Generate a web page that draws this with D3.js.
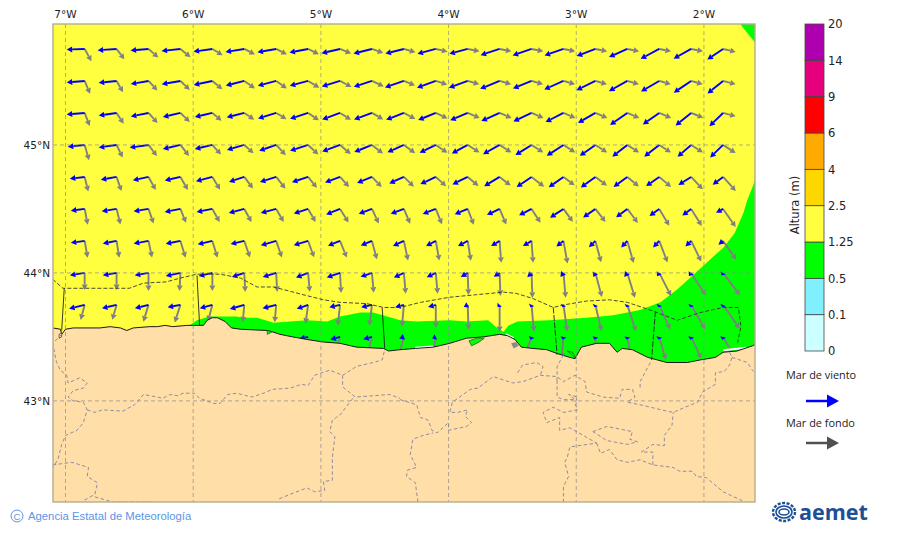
<!DOCTYPE html>
<html>
<head>
<meta charset="utf-8">
<style>
    body { margin: 0; background: #fff; }
    svg { display: block; }
    text { font-family: "DejaVu Sans", sans-serif; fill: #222; }
</style>
<script src="https://cdn.jsdelivr.net/npm/d3@7"></script>
</head>
<body>
<div id="container"></div>
<script>
// Grid of the wave model
const gridLons = [-6.85, -6.6, -6.35, -6.1, -5.85, -5.6, -5.35, -5.1, -4.85, -4.6, -4.35, -4.1, -3.85, -3.6, -3.35, -3.1, -2.85, -2.6, -2.35, -2.1, -1.85];
const gridLats = [45.75, 45.5, 45.25, 45, 44.75, 44.5, 44.25, 44, 43.75, 43.5];

// Wind sea: heading in degrees and size, one row per latitude
const windDir = [
    [268,266,265,264,262,261,260,259,257,256,256,255,255,252,251,251,249,246,242,241,236],
    [265,264,260,260,258,256,255,255,253,252,251,250,250,248,248,246,244,241,240,236,231],
    [265,262,259,257,257,256,253,252,250,250,249,248,247,246,245,243,240,235,235,231,226],
    [264,262,262,257,257,254,251,252,250,248,246,244,242,241,238,237,235,232,232,229,226],
    [263,260,258,257,255,252,253,252,250,248,246,245,244,239,236,235,234,234,235,238,233],
    [263,261,261,259,259,255,255,252,248,250,250,249,248,245,243,237,235,233,234,233,241],
    [262,259,260,259,257,257,254,253,248,248,245,242,242,239,239,232,226,223,223,225,231],
    [261,260,260,258,257,252,253,249,251,251,245,245,240,236,225,217,207,217,214,214,210],
    [256,257,256,260,255,254,256,251,258,258,255,255,243,225,207,205,205,205,205,205,205],
    [null,null,null,null,null,null,null,258,255,255,250,245,null,null,200,195,195,190,195,195,195]
];
const windLen = [
    [1.8,1.9,1.8,1.9,1.9,1.9,1.9,1.9,1.9,1.9,1.9,1.9,1.9,2.0,2.0,2.0,2.0,2.0,2.1,2.0,1.9],
    [1.8,1.8,1.8,1.9,1.9,1.9,1.9,1.9,1.9,1.9,2.0,2.0,2.0,2.1,2.0,2.1,2.1,2.1,2.1,2.1,2.0],
    [1.8,1.8,1.8,1.8,1.8,1.8,1.9,1.9,1.9,1.9,1.9,1.9,1.9,2.0,2.0,2.0,2.0,2.1,2.0,2.0,1.9],
    [1.7,1.8,1.9,1.8,1.8,1.8,1.8,1.9,1.9,1.9,1.8,1.8,1.8,1.9,1.9,2.0,1.9,1.9,1.9,1.8,1.8],
    [1.5,1.6,1.6,1.6,1.7,1.6,1.7,1.7,1.6,1.6,1.6,1.7,1.7,1.8,1.8,1.8,1.8,1.7,1.6,1.5,1.3],
    [1.4,1.5,1.5,1.6,1.6,1.6,1.6,1.5,1.5,1.4,1.4,1.4,1.4,1.4,1.4,1.6,1.5,1.4,1.2,1.1,0.8],
    [1.4,1.4,1.5,1.5,1.5,1.4,1.6,1.5,1.3,1.2,1.2,1.1,1.1,1.0,1.0,0.9,0.9,0.9,0.9,0.8,0.6],
    [1.5,1.4,1.4,1.5,1.4,1.3,1.4,1.3,1.4,1.2,1.1,1.0,0.8,0.7,0.6,0.5,0.45,0.5,0.4,0.4,0.3],
    [1.6,1.5,1.4,1.3,1.3,1.5,1.4,1.2,1.1,1.1,0.9,0.8,0.45,0.3,0.25,0.25,0.25,0.25,0.25,0.25,0.25],
    [null,null,null,null,null,null,null,0.9,1.0,0.9,0.5,0.4,null,null,0.3,0.3,0.3,0.3,0.3,0.3,0.3]
];

// Swell: heading in degrees and size
const swellDir = [
    [151,143,131,129,121,117,117,116,112,110,106,103,101,101,101,101,101,101,101,101,103],
    [157,150,137,134,130,125,125,121,118,115,112,108,106,106,106,106,106,106,106,106,105],
    [159,147,138,134,130,124,121,124,122,120,118,115,113,113,113,113,113,113,113,112,105],
    [164,154,143,142,138,132,137,133,130,128,126,124,123,123,123,123,123,123,123,123,123],
    [166,161,151,150,149,143,142,141,138,136,134,132,130,128,128,127,127,130,130,137,138],
    [169,166,161,158,151,151,150,150,148,155,157,158,159,157,147,144,142,143,149,148,145],
    [170,171,168,163,163,161,161,160,158,165,168,170,171,176,176,170,165,164,159,154,145],
    [180,180,180,183,180,177,177,175,177,175,175,175,178,178,178,175,165,163,153,147,143],
    [195,196,197,198,195,185,185,188,186,187,185,180,178,180,175,172,167,162,156,150,145],
    [null,null,null,null,null,null,null,195,197,195,195,190,null,null,200,185,180,170,164,155,150]
];
const swellLen = [
    [1.4,1.3,1.3,1.3,1.2,1.2,1.2,1.2,1.2,1.2,1.2,1.2,1.2,1.2,1.2,1.2,1.2,1.2,1.2,1.2,1.3],
    [1.4,1.3,1.3,1.3,1.3,1.3,1.3,1.3,1.3,1.3,1.2,1.2,1.2,1.2,1.2,1.2,1.2,1.2,1.2,1.2,1.3],
    [1.4,1.3,1.35,1.3,1.2,1.2,1.2,1.3,1.3,1.3,1.3,1.3,1.3,1.3,1.3,1.3,1.3,1.3,1.3,1.3,1.3],
    [1.6,1.4,1.4,1.4,1.3,1.25,1.4,1.4,1.4,1.4,1.4,1.4,1.4,1.4,1.4,1.4,1.4,1.4,1.4,1.4,1.5],
    [1.5,1.5,1.5,1.5,1.5,1.45,1.5,1.4,1.35,1.4,1.4,1.4,1.4,1.4,1.6,1.4,1.45,1.5,1.55,1.7,1.9],
    [1.6,1.6,1.55,1.5,1.5,1.5,1.5,1.5,1.6,1.6,1.6,1.65,1.7,1.7,1.65,1.6,1.65,1.75,1.95,2.0,2.2],
    [1.7,1.7,1.7,1.75,1.75,1.75,1.75,1.75,1.8,1.9,2.0,2.0,2.0,2.2,2.2,2.3,2.2,2.3,2.3,2.3,2.3],
    [1.7,1.7,1.8,1.8,1.8,1.9,1.9,1.9,2.0,2.0,2.1,2.1,2.2,2.3,2.5,2.5,2.5,2.6,2.6,2.7,2.8],
    [1.55,1.55,1.75,1.85,1.7,1.75,1.75,1.9,2.1,2.1,2.2,2.3,2.5,2.7,2.7,2.7,2.7,2.8,2.7,2.8,2.9],
    [null,null,null,null,null,null,null,2.0,2.0,2.1,2.1,2.2,null,null,2.2,2.2,2.2,2.3,2.4,2.4,2.4]
];

// Height classes of the colour bar
const heightLabels = ["0", "0.1", "0.5", "1.25", "2.5", "4", "6", "9", "14", "20"];
const heightColors = ["#ccffff", "#80f0ff", "#00ff00", "#ffff40", "#ffd700", "#ffaa00", "#ff0000", "#e6007e", "#ae00ae"];

const lonTicks = [-7, -6, -5, -4, -3, -2];
const latTicks = [45, 44, 43];

// Coastline, lon/lat, west to east
const coast = [[-7.10,43.57],[-7.04,43.56],[-7.03,43.52],[-7.00,43.56],[-6.94,43.57],[-6.73,43.57],[-6.65,43.58],[-6.57,43.57],[-6.52,43.55],[-6.47,43.57],[-6.34,43.58],[-6.28,43.58],[-6.22,43.59],[-6.16,43.58],[-6.05,43.59],[-5.92,43.59],[-5.89,43.63],[-5.85,43.65],[-5.81,43.65],[-5.75,43.62],[-5.70,43.57],[-5.63,43.56],[-5.42,43.55],[-5.38,43.54],[-5.32,43.52],[-5.22,43.50],[-5.11,43.48],[-4.98,43.46],[-4.85,43.45],[-4.72,43.42],[-4.51,43.41],[-4.47,43.39],[-4.38,43.40],[-4.26,43.41],[-4.12,43.42],[-3.99,43.45],[-3.86,43.49],[-3.73,43.50],[-3.60,43.52],[-3.54,43.51],[-3.48,43.48],[-3.43,43.42],[-3.34,43.41],[-3.23,43.40],[-3.15,43.37],[-3.05,43.34],[-3.01,43.33],[-2.96,43.42],[-2.84,43.45],[-2.74,43.45],[-2.68,43.38],[-2.64,43.41],[-2.56,43.40],[-2.44,43.34],[-2.29,43.30],[-2.13,43.30],[-2.03,43.32],[-1.91,43.34],[-1.85,43.38],[-1.74,43.39],[-1.62,43.43],[-1.60,43.44]];

// Contours of the 1.25 m class
const greenCoastal = [[-6.03,43.59],[-5.97,43.63],[-5.87,43.66],[-5.77,43.66],[-5.66,43.66],[-5.61,43.65],[-5.50,43.65],[-5.37,43.61],[-5.24,43.62],[-5.11,43.63],[-4.95,43.62],[-4.85,43.66],[-4.69,43.69],[-4.59,43.69],[-4.48,43.66],[-4.38,43.63],[-4.25,43.62],[-3.99,43.63],[-3.86,43.62],[-3.69,43.63],[-3.62,43.57],[-3.57,43.54],[-3.53,43.59],[-3.46,43.62],[-3.21,43.63],[-2.92,43.65],[-2.71,43.67],[-2.50,43.71],[-2.34,43.77],[-2.21,43.87],[-2.11,43.96],[-2.00,44.06],[-1.93,44.125],[-1.85,44.195],[-1.76,44.31],[-1.69,44.47],[-1.66,44.57],[-1.62,44.67],[-1.60,44.73],[-1.60,43.2],[-6.03,43.2]];
const greenCorner = [[-1.72,45.95],[-1.66,45.875],[-1.60,45.80],[-1.60,45.95]];
const greenIslets = [
    [[-3.84,43.47],[-3.78,43.49],[-3.72,43.49],[-3.76,43.46],[-3.82,43.43]],
    [[-3.07,43.39],[-3.00,43.33],[-3.03,43.38]],
    [[-5.42,43.55],[-5.38,43.54],[-5.42,43.52]]
];
const rocks = [
    [[-3.51,43.45],[-3.47,43.46],[-3.45,43.43],[-3.49,43.41]]
];
const noDataStrips = [
    [[-4.26,43.415],[-4.12,43.425]],
    [[-1.85,43.395],[-1.67,43.415]],
    [[-3.55,43.52],[-3.49,43.49]]
];
const estuary = [[-7.05,43.52],[-7.03,43.53],[-7.03,43.50],[-7.05,43.49]];

// Maritime limits offshore
const seaLimit = [[-7.10,43.95],[-7.02,43.88],[-6.50,43.88],[-6.39,43.92],[-6.21,43.93],[-6.10,43.96],[-5.97,43.99],[-5.79,43.99],[-5.63,43.96],[-5.50,43.89],[-5.37,43.89],[-5.14,43.83],[-4.98,43.79],[-4.85,43.77],[-4.64,43.76],[-4.51,43.73],[-4.38,43.73],[-4.22,43.77],[-3.99,43.81],[-3.78,43.83],[-3.57,43.85],[-3.47,43.84],[-3.34,43.80],[-3.18,43.73],[-3.10,43.75],[-2.92,43.78],[-2.74,43.79],[-2.60,43.77],[-2.42,43.71],[-2.21,43.63],[-2.03,43.69],[-1.85,43.73],[-1.73,43.73],[-1.71,43.58],[-1.74,43.44]];
const seaDividers = [
    [[-7.01,43.88],[-7.03,43.55]],
    [[-5.97,43.98],[-5.95,43.59]],
    [[-4.52,43.73],[-4.50,43.41]],
    [[-3.18,43.73],[-3.15,43.36]],
    [[-2.38,43.70],[-2.41,43.32]]
];

// Province borders on land
const provinces = [
    [[-7.03,43.52],[-7.10,43.45],[-7.07,43.30],[-7.04,43.24],[-6.99,43.20],[-6.98,43.14],[-6.89,43.18],[-6.83,43.14],[-6.86,43.10],[-6.94,43.08],[-6.98,43.03],[-6.94,43.00],[-6.86,42.99],[-6.83,42.93],[-6.86,42.83],[-6.91,42.77],[-7.00,42.73],[-7.03,42.66],[-7.06,42.54],[-7.10,42.48]],
    [[-6.83,42.93],[-6.77,42.91],[-6.71,42.93],[-6.55,42.92],[-6.46,42.97],[-6.44,42.99],[-6.39,43.05],[-6.28,43.03],[-6.24,43.02],[-6.18,43.05],[-6.12,43.04],[-6.08,43.06],[-5.99,43.06],[-5.95,43.02],[-5.84,42.98],[-5.79,42.98],[-5.73,43.05],[-5.66,43.06],[-5.54,43.03],[-5.45,43.06],[-5.38,43.09],[-5.24,43.10],[-5.15,43.13],[-5.10,43.12],[-5.05,43.20],[-4.93,43.24],[-4.83,43.20],[-4.72,43.27],[-4.59,43.30],[-4.52,43.32],[-4.50,43.40]],
    [[-4.83,43.20],[-4.83,43.11],[-4.73,43.03],[-4.46,43.05],[-4.38,43.02]],
    [[-4.75,43.02],[-4.85,42.89],[-4.91,42.85],[-4.93,42.76],[-4.89,42.72],[-4.91,42.56],[-4.91,42.46],[-4.91,42.38],[-4.98,42.37],[-4.97,42.30],[-5.05,42.29],[-5.11,42.32],[-5.24,42.27],[-5.34,42.23]],
    [[-7.10,42.50],[-6.95,42.52],[-6.82,42.48],[-6.83,42.41],[-6.75,42.36],[-6.77,42.27],[-6.86,42.22]],
    [[-6.77,42.25],[-6.63,42.21],[-6.31,42.21]],
    [[-4.38,43.01],[-4.25,42.97],[-4.22,42.87],[-4.16,42.85],[-4.13,42.77],[-4.09,42.75],[-4.00,42.83],[-4.00,42.77],[-3.86,42.80],[-3.82,42.83],[-3.87,42.88],[-3.85,42.93],[-3.93,42.91],[-3.99,42.91],[-3.97,42.99],[-3.83,43.09],[-3.77,43.10],[-3.65,43.19],[-3.50,43.14],[-3.42,43.15],[-3.28,43.20],[-3.15,43.19],[-3.10,43.15],[-3.01,43.20],[-2.93,43.15],[-2.92,43.07],[-2.79,43.03],[-2.66,43.02],[-2.64,43.09],[-2.56,43.09],[-2.54,43.03],[-2.60,42.99],[-2.50,42.97],[-2.29,42.92],[-2.24,42.91],[-2.15,42.95],[-2.05,42.99],[-2.01,43.07],[-1.91,43.13],[-1.91,43.22],[-1.84,43.23],[-1.80,43.28],[-1.78,43.34],[-1.80,43.38]],
    [[-1.78,43.34],[-1.66,43.30],[-1.62,43.24],[-1.60,43.22]],
    [[-3.15,43.16],[-3.15,43.03],[-3.10,43.01],[-3.01,43.01],[-3.06,43.05],[-2.99,43.03],[-3.01,42.98],[-2.99,42.93],[-3.10,42.91],[-3.18,42.95],[-3.26,42.91],[-3.23,42.83],[-3.13,42.87],[-3.13,42.77],[-3.05,42.79],[-2.84,42.67],[-3.05,42.64],[-3.07,42.56],[-3.09,42.52],[-3.06,42.41],[-3.10,42.33],[-3.10,42.21]],
    [[-2.84,42.67],[-2.81,42.59],[-2.74,42.62],[-2.68,42.54],[-2.60,42.52],[-2.50,42.54],[-2.40,42.50],[-2.24,42.48],[-2.19,42.45],[-2.09,42.45],[-2.06,42.41],[-1.98,42.40],[-1.85,42.29],[-1.70,42.22]],
    [[-2.87,42.76],[-2.76,42.80],[-2.56,42.76],[-2.58,42.70],[-2.52,42.68],[-2.60,42.66],[-2.76,42.69],[-2.87,42.76]],
    [[-2.40,42.50],[-2.40,42.60],[-2.49,42.60],[-2.40,42.66],[-2.31,42.65],[-2.31,42.73],[-2.25,42.81],[-2.24,42.91]],
    [[-4.24,42.21],[-4.26,42.36],[-4.33,42.41],[-4.32,42.46],[-4.25,42.48],[-4.30,42.58],[-4.28,42.70],[-4.20,42.73],[-4.12,42.75]],
    [[-3.46,43.22],[-3.42,43.28],[-3.31,43.30],[-3.26,43.27],[-3.28,43.20]],
    [[-3.10,43.36],[-3.15,43.27],[-3.15,43.16]],
    [[-2.42,43.30],[-2.50,43.15],[-2.50,43.09]]
];

const svg = d3.select("#container").append("svg")
    .attr("width", 900)
    .attr("height", 533);

// Scales
const x = d3.scaleLinear().domain([-7.098, -1.6]).range([53, 755]);
const y = d3.scaleLinear().domain([42.21, 45.945]).range([502, 24]);
const arrowSize = d3.scaleLinear().domain([0, 3]).range([0, 30]);
const barY = d3.scalePoint().domain(heightLabels).range([351, 24]);

const line = d3.line().x(d => x(d[0])).y(d => y(d[1]));

svg.append("clipPath").attr("id", "plot-clip")
  .append("rect")
    .attr("x", 53).attr("y", 24)
    .attr("width", 702).attr("height", 478);

const map = svg.append("g").attr("clip-path", "url(#plot-clip)");

// Sea: the whole frame is in the 1.25 - 2.5 class, the rest sits on top
map.append("rect")
    .attr("x", 53).attr("y", 24)
    .attr("width", 702).attr("height", 478)
    .attr("fill", heightColors[3]);

map.selectAll(".green")
    .data([greenCoastal, greenCorner])
    .enter().append("path")
    .attr("class", "green")
    .attr("d", d => line(d) + "Z")
    .attr("fill", heightColors[2]);

// Builds an arrow starting at (x0,y0) with a heading in degrees
function arrowPath(x0, y0, heading, size) {
    const a = heading * Math.PI / 180;
    const ux = Math.sin(a), uy = -Math.cos(a);
    const headLen = Math.min(size, 5.5);
    const headW = 3;
    const x1 = x0 + ux * size, y1 = y0 + uy * size;
    const bx = x1 - ux * headLen, by = y1 - uy * headLen;
    return {
        x1: x0, y1: y0, x2: bx, y2: by,
        head: [[x1, y1], [bx - uy * headW, by + ux * headW], [bx + uy * headW, by - ux * headW]]
    };
}

function drawField(dirs, lens, color) {
    gridLats.forEach((lat, i) => {
        gridLons.forEach((lon, j) => {
            if (dirs[i][j] === null) return;
            const a = arrowPath(x(lon), y(lat), dirs[i][j], arrowSize(lens[i][j]));
            map.append("line")
                .attr("x1", a.x1).attr("y1", a.y1)
                .attr("x2", a.x2).attr("y2", a.y2)
                .attr("stroke", color)
                .attr("stroke-width", 1.9);
            map.append("polygon")
                .attr("points", a.head.map(p => p.join(",")).join(" "))
                .attr("fill", color);
        });
    });
}

drawField(swellDir, swellLen, "#808080");
drawField(windDir, windLen, "#0000ff");

// Land goes over the arrows
map.append("path")
    .attr("d", line(coast.concat([[-1.6, 42.2], [-7.1, 42.2]])) + "Z")
    .attr("fill", "#ffdea8");

map.selectAll(".strip")
    .data(noDataStrips)
    .enter().append("path")
    .attr("class", "strip")
    .attr("d", line)
    .attr("fill", "none")
    .attr("stroke", "#fff")
    .attr("stroke-width", 2);

map.append("path")
    .attr("d", line(coast))
    .attr("fill", "none")
    .attr("stroke", "#1a1a1a")
    .attr("stroke-width", 1);

map.selectAll(".islet")
    .data(greenIslets)
    .enter().append("path")
    .attr("class", "islet")
    .attr("d", d => line(d) + "Z")
    .attr("fill", heightColors[2])
    .attr("stroke", "#145014")
    .attr("stroke-width", 0.7);

map.selectAll(".rock")
    .data(rocks)
    .enter().append("path")
    .attr("class", "rock")
    .attr("d", d => line(d) + "Z")
    .attr("fill", "#8a8a8a");

map.append("path")
    .attr("d", line(estuary) + "Z")
    .attr("fill", "#ffdea8")
    .attr("stroke", "#333")
    .attr("stroke-width", 0.7);

map.selectAll(".province")
    .data(provinces)
    .enter().append("path")
    .attr("class", "province")
    .attr("d", line)
    .attr("fill", "none")
    .attr("stroke", "#84819f")
    .attr("stroke-width", 0.9)
    .attr("stroke-dasharray", "3.5,2.5");

// Graticule
map.selectAll(".lon-grid")
    .data(lonTicks)
    .enter().append("line")
    .attr("class", "lon-grid")
    .attr("x1", d => x(d)).attr("x2", d => x(d))
    .attr("y1", 24).attr("y2", 502)
    .attr("stroke", "#8c8c8c")
    .attr("stroke-opacity", 0.7)
    .attr("stroke-dasharray", "4,3");
map.selectAll(".lat-grid")
    .data(latTicks)
    .enter().append("line")
    .attr("class", "lat-grid")
    .attr("x1", 53).attr("x2", 755)
    .attr("y1", d => y(d)).attr("y2", d => y(d))
    .attr("stroke", "#8c8c8c")
    .attr("stroke-opacity", 0.7)
    .attr("stroke-dasharray", "4,3");

map.append("path")
    .attr("d", line(seaLimit))
    .attr("fill", "none")
    .attr("stroke", "#333")
    .attr("stroke-width", 0.9)
    .attr("stroke-dasharray", "4,2");

map.selectAll(".divider")
    .data(seaDividers)
    .enter().append("path")
    .attr("class", "divider")
    .attr("d", line)
    .attr("fill", "none")
    .attr("stroke", "#222")
    .attr("stroke-width", 0.9)
    .attr("stroke-dasharray", (d, i) => i < 3 ? null : "6,1.5");

// Frame
svg.append("rect")
    .attr("x", 53).attr("y", 24)
    .attr("width", 702).attr("height", 478)
    .attr("fill", "none")
    .attr("stroke", "#b5ad90")
    .attr("stroke-width", 1.4);

// Coordinate labels
svg.selectAll(".lon-label")
    .data(lonTicks)
    .enter().append("text")
    .attr("class", "lon-label")
    .attr("x", d => x(d))
    .attr("y", 18)
    .attr("text-anchor", "middle")
    .attr("font-size", 10.5)
    .text(d => Math.abs(d) + "°W");
svg.selectAll(".lat-label")
    .data(latTicks)
    .enter().append("text")
    .attr("class", "lat-label")
    .attr("x", 50)
    .attr("y", d => y(d) + 4)
    .attr("text-anchor", "end")
    .attr("font-size", 10.5)
    .text(d => d + "°N");

// Colour bar
const bar = svg.append("g");
bar.selectAll("rect")
    .data(heightColors)
    .enter().append("rect")
    .attr("x", 805)
    .attr("width", 19)
    .attr("y", (d, i) => barY(heightLabels[i + 1]))
    .attr("height", (d, i) => barY(heightLabels[i]) - barY(heightLabels[i + 1]))
    .attr("fill", d => d)
    .attr("stroke", "#444")
    .attr("stroke-width", 0.8);

const barAxis = svg.append("g")
    .attr("transform", "translate(824,0)")
    .call(d3.axisRight(barY).tickSize(0).tickPadding(4));
barAxis.select(".domain").remove();
barAxis.selectAll("text")
    .attr("font-size", 11.5)
    .style("font-family", "'DejaVu Sans', sans-serif")
    .style("fill", "#222");

svg.append("text")
    .attr("transform", "translate(799,205) rotate(-90)")
    .attr("text-anchor", "middle")
    .attr("font-size", 11.5)
    .text("Altura (m)");

// Arrow legend
const legendItems = [
    { label: "Mar de viento", color: "#0000ff", ty: 379, ay: 401 },
    { label: "Mar de fondo", color: "#505050", ty: 427, ay: 443 }
];
const legend = svg.selectAll(".legend")
    .data(legendItems)
    .enter().append("g")
    .attr("class", "legend");
legend.append("text")
    .attr("x", 786)
    .attr("y", d => d.ty)
    .attr("font-size", 10.9)
    .style("font-family", "'Open Sans', sans-serif")
    .text(d => d.label);
legend.append("line")
    .attr("x1", 806).attr("x2", 829)
    .attr("y1", d => d.ay).attr("y2", d => d.ay)
    .attr("stroke", d => d.color)
    .attr("stroke-width", 2.5);
legend.append("polygon")
    .attr("points", d => `839,${d.ay} 827,${d.ay - 6.5} 827,${d.ay + 6.5}`)
    .attr("fill", d => d.color);

// Credit line
svg.append("circle")
    .attr("cx", 17).attr("cy", 516).attr("r", 6)
    .attr("fill", "none")
    .attr("stroke", "#5c95e6")
    .attr("stroke-width", 1);
svg.append("text")
    .attr("x", 17).attr("y", 519.5)
    .attr("text-anchor", "middle")
    .attr("font-size", 9.5)
    .style("font-family", "'Liberation Sans', sans-serif")
    .style("fill", "#5c95e6")
    .text("C");
svg.append("text")
    .attr("x", 28).attr("y", 520)
    .attr("font-size", 11.3)
    .style("font-family", "'Liberation Sans', sans-serif")
    .style("fill", "#5c95e6")
    .text("Agencia Estatal de Meteorología");

// Logo
const logo = svg.append("g").attr("fill", "none").attr("stroke", "#1c4f96");
[9, 6, 3].forEach((r, i) => {
    logo.append("ellipse")
        .attr("cx", 784).attr("cy", 512)
        .attr("rx", r + 2).attr("ry", r)
        .attr("stroke-width", i === 0 ? 2.4 : 1.6)
        .attr("stroke-dasharray", i === 0 ? "3,1.5" : null);
});
svg.append("text")
    .attr("x", 799).attr("y", 520)
    .attr("font-size", 21.5)
    .attr("font-weight", "bold")
    .style("font-family", "'Open Sans', sans-serif")
    .style("fill", "#1c4f96")
    .text("aemet");
</script>
</body>
</html>
